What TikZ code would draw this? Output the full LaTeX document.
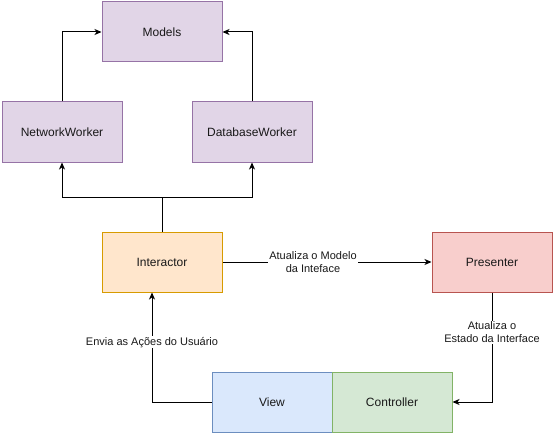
\documentclass[tikz,border=0pt]{standalone}
\usepackage{fontspec}
\setmainfont{Liberation Sans}
\usetikzlibrary{arrows.meta}
\definecolor{purpfill}{HTML}{E1D5E7}\definecolor{purpline}{HTML}{9673A6}
\definecolor{orfill}{HTML}{FFE6CC}\definecolor{orline}{HTML}{D79B00}
\definecolor{redfill}{HTML}{F8CECC}\definecolor{redline}{HTML}{B85450}
\definecolor{bluefill}{HTML}{DAE8FC}\definecolor{blueline}{HTML}{6C8EBF}
\definecolor{grfill}{HTML}{D5E8D4}\definecolor{grline}{HTML}{82B366}
\begin{document}
\begin{tikzpicture}[x=1pt,y=-1pt,
  box/.style={draw, line width=1pt, minimum width=120pt, minimum height=60pt, inner sep=0pt, font=\fontsize{12}{14}\selectfont, text=black!90},
  purp/.style={box, fill=purpfill, draw=purpline},
  ora/.style={box, fill=orfill, draw=orline},
  redb/.style={box, fill=redfill, draw=redline},
  blu/.style={box, fill=bluefill, draw=blueline},
  grn/.style={box, fill=grfill, draw=grline},
  conn/.style={line width=1pt, -{Stealth[length=7pt,width=6pt,inset=2pt]}},
  lbl/.style={fill=white, inner sep=1pt, font=\fontsize{11}{13}\selectfont, align=center, text=black!90}]
\useasboundingbox (0,0) rectangle (555,436);
\node[purp] (models) at (162,32) {Models};
\node[purp] (net) at (62,132) {NetworkWorker};
\node[purp] (db) at (252,132) {DatabaseWorker};
\node[ora] (inter) at (162,262) {Interactor};
\node[redb] (pres) at (492,262) {Presenter};
\node[blu] (view) at (272,402) {View};
\node[grn] (ctrl) at (392,402) {Controller};
\coordinate (split) at (162,197);
\draw[conn] (net.north) |- (models.west);
\draw[conn] (db.north) |- (models.east);
\draw[line width=1pt] (inter.north) -- (split);
\draw[conn] (split) -| (net.south);
\draw[conn] (split) -| (db.south);
\draw[conn] (inter.east) -- node[lbl, pos=0.433] {Atualiza o Modelo\\da Inteface} (pres.west);
\draw[conn] (pres.south) |- node[lbl, pos=0.182] {Atualiza o\\Estado da Interface} (ctrl.east);
\draw[conn] (view.west) -| node[lbl, pos=0.773] {Envia as Ações do Usuário} ([xshift=-10pt]inter.south);
\end{tikzpicture}
\end{document}
